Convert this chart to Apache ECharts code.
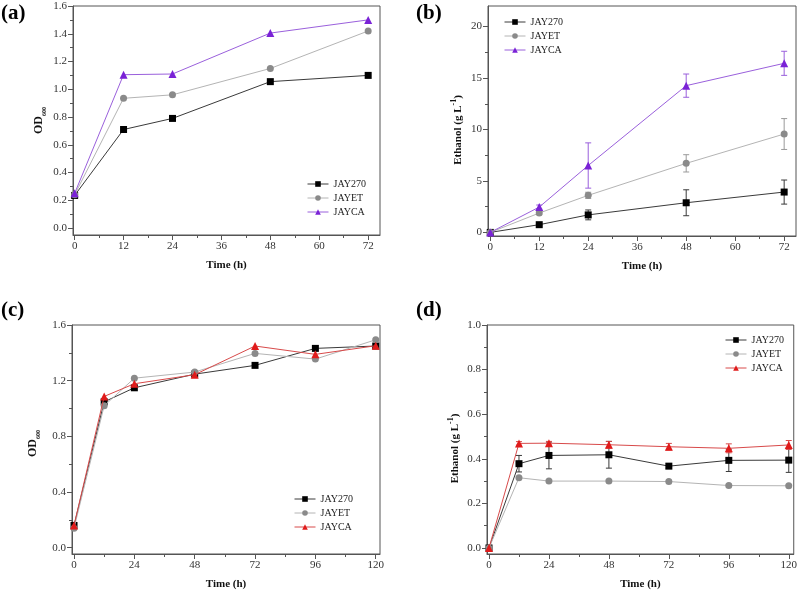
<!DOCTYPE html>
<html>
<head>
<meta charset="utf-8">
<script src="https://cdn.jsdelivr.net/npm/echarts@6/dist/echarts.min.js"></script>
<style>
  html, body { margin: 0; padding: 0; background: #fff; }
  #main { width: 800px; height: 592px; }
</style>
</head>
<body>
<div id="main"></div>
<script>
var chartDom = document.getElementById('main');
var myChart = echarts.init(chartDom);
var option;

const FONT = 'Liberation Serif';

// (a) OD600, 0-72 h
const timeA = [0, 12, 24, 48, 72];
const aJAY270 = [0.235, 0.71, 0.79, 1.055, 1.10];
const aJAYET = [0.24, 0.935, 0.96, 1.15, 1.42];
const aJAYCA = [0.25, 1.105, 1.11, 1.405, 1.50];

// (b) ethanol, 0-72 h, with error bars
const timeB = [0, 12, 24, 48, 72];
const bJAY270 = [0, 0.75, 1.7, 2.88, 3.92];
const bJAY270Err = [0, 0.1, 0.48, 1.26, 1.17];
const bJAYET = [0, 1.88, 3.6, 6.71, 9.56];
const bJAYETErr = [0, 0.15, 0.3, 0.84, 1.5];
const bJAYCA = [0, 2.46, 6.5, 14.26, 16.43];
const bJAYCAErr = [0, 0.2, 2.2, 1.13, 1.17];

// (c) OD600, 0-120 h
const timeC = [0, 12, 24, 48, 72, 96, 120];
const cJAY270 = [0.16, 1.048, 1.149, 1.247, 1.31, 1.432, 1.449];
const cJAYET = [0.14, 1.02, 1.218, 1.262, 1.396, 1.355, 1.494];
const cJAYCA = [0.16, 1.087, 1.178, 1.243, 1.449, 1.389, 1.451];

// (d) ethanol, 0-120 h, with error bars
const timeD = [0, 12, 24, 48, 72, 96, 120];
const dJAY270 = [0, 0.378, 0.415, 0.418, 0.367, 0.393, 0.394];
const dJAY270Err = [0, 0.037, 0.06, 0.06, 0.01, 0.05, 0.055];
const dJAYET = [0, 0.315, 0.30, 0.30, 0.298, 0.28, 0.279];
const dJAYETErr = [0, 0.005, 0.005, 0.005, 0.005, 0.005, 0.005];
const dJAYCA = [0, 0.469, 0.47, 0.463, 0.454, 0.447, 0.462];
const dJAYCAErr = [0, 0.008, 0.008, 0.015, 0.015, 0.02, 0.02];

// tick labels
const xTicks72 = [0, 12, 24, 36, 48, 60, 72];
const xTicks120 = [0, 24, 48, 72, 96, 120];
const yTicksOD72 = [0, 0.2, 0.4, 0.6, 0.8, 1.0, 1.2, 1.4, 1.6];
const yTicksEth72 = [0, 5, 10, 15, 20];
const yTicksOD120 = [0, 0.4, 0.8, 1.2, 1.6];
const yTicksEth120 = [0, 0.2, 0.4, 0.6, 0.8, 1.0];

const names = ['JAY270', 'JAYET', 'JAYCA'];
const markers = ['rect', 'circle', 'triangle'];
const markerSize = [7, 7, 8];
const dotColors = ['#000000', '#8a8a8a', null];
const lineColors = ['#3a3a3a', '#b4b4b4', null];
const purple = ['#7a22d6', '#9a60dc'];
const red = ['#e01b1b', '#d84a4a'];

function minors(ticks) {
  const out = [];
  for (let i = 0; i < ticks.length - 1; i++) out.push((ticks[i] + ticks[i + 1]) / 2);
  return out;
}

function pairs(xs, ys) {
  return xs.map((x, i) => [x, ys[i]]);
}

function errData(xs, ys, es) {
  return xs.map((x, i) => [x, ys[i] - es[i], ys[i] + es[i]]);
}

function axis(dim, grid, min, max, ticks, fmt, name, nameGap, namePad) {
  return {
    type: 'value', gridIndex: grid, min: min, max: max,
    position: dim === 'x' ? 'bottom' : 'left',
    name: name, nameLocation: 'middle', nameGap: nameGap,
    nameTextStyle: {
      fontFamily: FONT, fontWeight: 'bold', fontSize: 11, color: '#111',
      padding: namePad || 0,
      rich: {
        b: { fontFamily: FONT, fontWeight: 'bold', fontSize: 11, color: '#111', lineHeight: 16 },
        bb: { fontFamily: FONT, fontWeight: 'bold', fontSize: 12, color: '#111', lineHeight: 16 },
        sub: { fontFamily: FONT, fontWeight: 'bold', fontSize: 6, color: '#111', verticalAlign: 'bottom', lineHeight: 16, padding: [6, 0, 0, 0] },
        sup: { fontFamily: FONT, fontWeight: 'bold', fontSize: 8, color: '#111', verticalAlign: 'top', lineHeight: 16, padding: [0, 0, 7, 0] }
      }
    },
    splitLine: { show: false },
    axisLine: { show: true, onZero: false, lineStyle: { color: '#555', width: 1 } },
    axisTick: { show: true, customValues: ticks, length: 5, lineStyle: { color: '#555' } },
    axisLabel: { customValues: ticks, formatter: fmt, fontFamily: FONT, fontSize: 11, color: '#333', margin: 6 }
  };
}

function minorAxis(dim, grid, min, max, ticks) {
  return {
    type: 'value', gridIndex: grid, min: min, max: max,
    position: dim === 'x' ? 'bottom' : 'left',
    splitLine: { show: false },
    axisLine: { show: false, onZero: false },
    axisLabel: { show: false },
    axisTick: { show: true, customValues: minors(ticks), length: 3, lineStyle: { color: '#555' } }
  };
}

function errRender(params, api) {
  const x = api.value(0);
  const p1 = api.coord([x, api.value(2)]);
  const p2 = api.coord([x, api.value(1)]);
  const w = 3;
  const st = { stroke: api.visual('color'), lineWidth: 1 };
  return {
    type: 'group',
    children: [
      { type: 'line', shape: { x1: p1[0], y1: p1[1], x2: p2[0], y2: p2[1] }, style: st },
      { type: 'line', shape: { x1: p1[0] - w, y1: p1[1], x2: p1[0] + w, y2: p1[1] }, style: st },
      { type: 'line', shape: { x1: p2[0] - w, y1: p2[1], x2: p2[0] + w, y2: p2[1] }, style: st }
    ]
  };
}

const fmt1 = v => v.toFixed(1);
const fmt0 = v => String(v);
const odName = '{bb|OD}{sub|600}';
const ethName = '{b|Ethanol (g L}{sup|-1}{b|)}';

const xAxes = [
  axis('x', 0, -0.4, 74.9, xTicks72, fmt0, 'Time (h)', 25), minorAxis('x', 0, -0.4, 74.9, xTicks72),
  axis('x', 1, -0.55, 74.9, xTicks72, fmt0, 'Time (h)', 25), minorAxis('x', 1, -0.55, 74.9, xTicks72),
  axis('x', 2, -0.8, 121.7, xTicks120, fmt0, 'Time (h)', 25), minorAxis('x', 2, -0.8, 121.7, xTicks120),
  axis('x', 3, -0.8, 122, xTicks120, fmt0, 'Time (h)', 25), minorAxis('x', 3, -0.8, 122, xTicks120)
];
const yAxes = [
  axis('y', 0, -0.05, 1.6, yTicksOD72, fmt1, odName, 26), minorAxis('y', 0, -0.05, 1.6, yTicksOD72),
  axis('y', 1, -0.35, 22, yTicksEth72, fmt0, ethName, 22, [0, 18, 0, 0]), minorAxis('y', 1, -0.35, 22, yTicksEth72),
  axis('y', 2, -0.045, 1.6, yTicksOD120, fmt1, odName, 31, [0, 8, 0, 0]), minorAxis('y', 2, -0.045, 1.6, yTicksOD120),
  axis('y', 3, -0.027, 1.0, yTicksEth120, fmt1, ethName, 24, [0, 18, 0, 0]), minorAxis('y', 3, -0.027, 1.0, yTicksEth120)
];

const grids = [
  { left: 73, right: 420, top: 6, bottom: 357 },
  { left: 488, right: 4, top: 6, bottom: 356 },
  { left: 72, right: 420, top: 325, bottom: 38 },
  { left: 487, right: 4, top: 325, bottom: 38 }
].map(g => Object.assign(g, { show: true, borderColor: '#555', borderWidth: 1, backgroundColor: 'transparent' }));

const panels = [
  { t: timeA, ys: [aJAY270, aJAYET, aJAYCA], errs: null, accent: purple },
  { t: timeB, ys: [bJAY270, bJAYET, bJAYCA], errs: [bJAY270Err, bJAYETErr, bJAYCAErr], accent: purple },
  { t: timeC, ys: [cJAY270, cJAYET, cJAYCA], errs: null, accent: red },
  { t: timeD, ys: [dJAY270, dJAYET, dJAYCA], errs: [dJAY270Err, dJAYETErr, dJAYCAErr], accent: red }
];

const series = [];
const legends = [];
const legendPos = [
  { left: 302, top: 174 },
  { left: 499, top: 12 },
  { left: 289, top: 489 },
  { left: 720, top: 330 }
];

panels.forEach((p, k) => {
  const dots = [dotColors[0], dotColors[1], p.accent[0]];
  const lines = [lineColors[0], lineColors[1], p.accent[1]];
  if (p.errs) {
    names.forEach((n, i) => {
      series.push({
        type: 'custom', name: n, xAxisIndex: 2 * k, yAxisIndex: 2 * k,
        renderItem: errRender, encode: { x: 0, y: [1, 2] },
        itemStyle: { color: lines[i] === '#b4b4b4' ? '#9a9a9a' : lines[i] },
        data: errData(p.t, p.ys[i], p.errs[i]), z: 1, silent: true
      });
    });
  }
  names.forEach((n, i) => {
    series.push({
      type: 'line', name: n, xAxisIndex: 2 * k, yAxisIndex: 2 * k,
      symbol: markers[i], symbolSize: markerSize[i], showAllSymbol: true,
      itemStyle: { color: dots[i] },
      lineStyle: { color: lines[i], width: 1 },
      data: pairs(p.t, p.ys[i]), z: 2 + i, animation: false
    });
  });
  legends.push(Object.assign({
    orient: 'vertical', itemWidth: 21, itemHeight: 7, itemGap: 4,
    textStyle: { fontFamily: FONT, fontSize: 10, color: '#222' },
    selectedMode: false,
    data: names.map((n, i) => ({
      name: n,
      itemStyle: { color: dots[i] },
      lineStyle: { color: lines[i], width: 1 }
    }))
  }, legendPos[k]));
});

const labelStyle = { fontFamily: FONT, fontWeight: 'bold', fontSize: 21, fill: '#000' };

option = {
  backgroundColor: '#fff',
  animation: false,
  grid: grids,
  xAxis: xAxes,
  yAxis: yAxes,
  legend: legends,
  series: series,
  graphic: [
    { type: 'text', left: 1, top: 3, style: Object.assign({ text: '(a)' }, labelStyle) },
    { type: 'text', left: 416, top: 3, style: Object.assign({ text: '(b)' }, labelStyle) },
    { type: 'text', left: 1, top: 300, style: Object.assign({ text: '(c)' }, labelStyle) },
    { type: 'text', left: 416, top: 300, style: Object.assign({ text: '(d)' }, labelStyle) }
  ]
};

option && myChart.setOption(option);
</script>
</body>
</html>
